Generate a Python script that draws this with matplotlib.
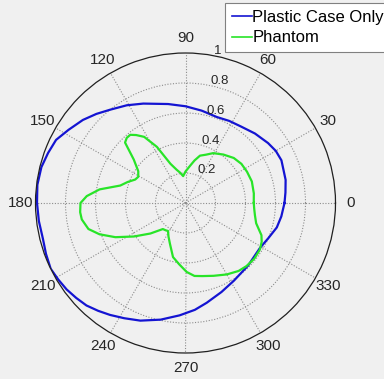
import numpy as np
import matplotlib
matplotlib.use("Agg")
import matplotlib.pyplot as plt

plt.rcParams['font.family'] = ['Liberation Sans', 'DejaVu Sans']

# angle (deg) / normalised radius
case_deg = [0, 6, 13, 19, 24, 30, 36, 45, 54, 62, 70, 80, 90, 100, 113, 121, 129, 135, 141, 148,
            154, 160, 166, 173, 180, 187, 194, 200, 206, 211, 216, 221, 226, 231, 236, 242, 249,
            258, 267, 275, 282, 292, 302, 315, 329, 337, 345, 352, 360]
case_r = [0.66, 0.67, 0.685, 0.69, 0.70, 0.695, 0.68, 0.655, 0.63, 0.62, 0.61, 0.625, 0.645, 0.67,
          0.72, 0.76, 0.80, 0.84, 0.88, 0.92, 0.96, 0.975, 0.99, 0.995, 0.99, 0.985, 0.98, 0.99,
          1.0, 0.99, 0.98, 0.965, 0.95, 0.925, 0.90, 0.87, 0.84, 0.795, 0.75, 0.715, 0.68, 0.64,
          0.61, 0.59, 0.58, 0.60, 0.63, 0.645, 0.66]

phantom_deg = [0, 8, 18, 27, 35, 43, 52, 61, 67, 73, 78, 83, 90, 95, 100, 105, 111, 117, 122,
               126, 129, 132, 135, 140, 146, 151, 155, 160, 165, 171, 176, 180, 185, 189, 195,
               200, 206, 213, 221, 229, 234, 238, 243, 249, 257, 264, 271, 277, 283, 291, 300,
               308, 314, 321, 328, 333, 337, 344, 350, 355, 360]
phantom_r = [0.455, 0.46, 0.465, 0.46, 0.455, 0.44, 0.41, 0.38, 0.35, 0.33, 0.29, 0.25, 0.21,
             0.18, 0.205, 0.23, 0.28, 0.42, 0.52, 0.56, 0.585, 0.585, 0.57, 0.45, 0.38, 0.36,
             0.37, 0.41, 0.45, 0.58, 0.66, 0.70, 0.705, 0.70, 0.67, 0.61, 0.52, 0.41, 0.31,
             0.23, 0.225, 0.22, 0.25, 0.29, 0.37, 0.41, 0.46, 0.49, 0.50, 0.52, 0.55, 0.575,
             0.585, 0.59, 0.585, 0.57, 0.55, 0.49, 0.47, 0.46, 0.455]

r_ticks = [0.2, 0.4, 0.6, 0.8, 1.0]
r_labels = ['0.2', '0.4', '0.6', '0.8', '1']
theta_ticks = list(range(0, 360, 30))

bg = '#f0f0f0'
fig = plt.figure(figsize=(3.84, 3.79), dpi=100, facecolor=bg)
ax = fig.add_axes([35.5 / 384, 26 / 379, 300 / 384, 300 / 379], projection='polar')
ax.set_facecolor(bg)

ax.plot(np.deg2rad(case_deg), case_r, color='#1414d2', lw=1.6, label='Plastic Case Only')
ax.plot(np.deg2rad(phantom_deg), phantom_r, color='#28e428', lw=1.6, label='Phantom')

ax.set_ylim(0, 1)
ax.set_rticks(r_ticks[:-1])
ax.set_yticklabels([])
ax.set_thetagrids(theta_ticks, labels=[''] * len(theta_ticks))
ax.grid(True, color='#8c8c8c', linestyle=(0, (1, 1.5)), linewidth=0.8)
ax.spines['polar'].set_color('#202020')
ax.spines['polar'].set_linewidth(0.9)
ax.tick_params(length=0)

for t in theta_ticks:
    ax.text(np.deg2rad(t), 1.1, str(t), ha='center', va='center', fontsize=11,
            color='#262626', clip_on=False)

for r, lab in zip(r_ticks, r_labels):
    ax.annotate(lab, xy=(np.deg2rad(82), r), xytext=(8, -3), textcoords='offset pixels',
                ha='left', va='bottom', fontsize=9.5, color='#262626', annotation_clip=False)

leg = ax.legend(loc='upper left', bbox_to_anchor=(225 / 384, 1 - 3 / 379),
                bbox_transform=fig.transFigure, fontsize=12, handlelength=1.2,
                handletextpad=0.05, borderpad=0.4, labelspacing=0.35, borderaxespad=0,
                fancybox=False, framealpha=1)
leg.get_frame().set_edgecolor('#808080')
leg.get_frame().set_linewidth(0.8)
for line in leg.get_lines():
    line.set_linewidth(1.2)

fig.savefig('out.png', dpi=100, facecolor=bg)
